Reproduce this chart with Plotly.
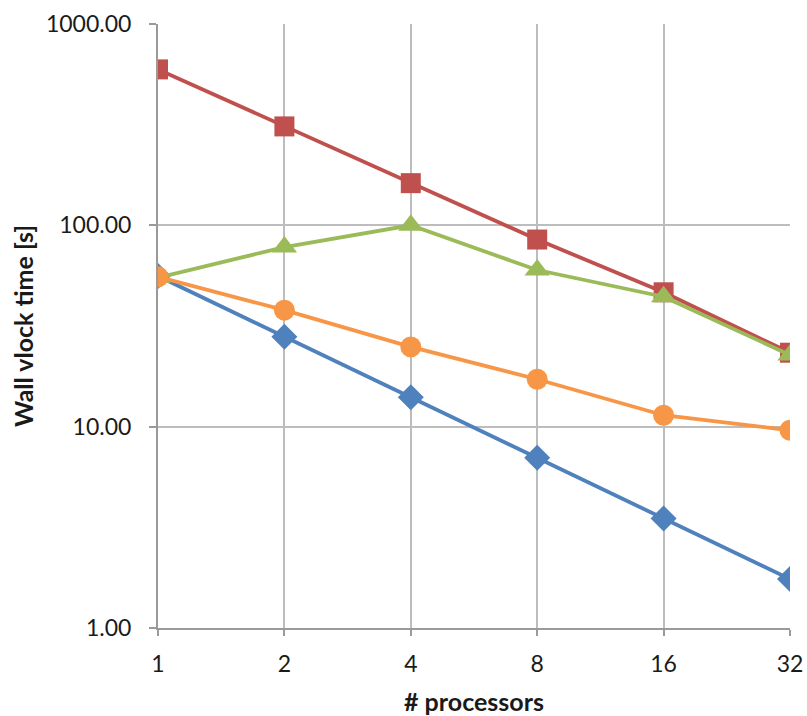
import plotly.graph_objects as go

# processor counts (category axis)
processors = ["1", "2", "4", "8", "16", "32"]

# wall clock times in seconds
blue_times = [56.0, 28.0, 14.0, 7.0, 3.5, 1.75]
red_times = [595.0, 310.0, 162.0, 85.0, 46.5, 23.3]
green_times = [55.0, 78.0, 100.0, 60.0, 44.2, 22.7]
orange_times = [55.5, 37.9, 24.9, 17.2, 11.4, 9.6]

y_ticks = [1, 10, 100, 1000]
y_tick_labels = ["1.00", "10.00", "100.00", "1000.00"]

series = [
    ("Series 1", blue_times, "#4F81BD", "diamond", 20),
    ("Series 2", red_times, "#C0504D", "square", 20),
    ("Series 3", green_times, "#9BBB59", "triangle-up", 22),
    ("Series 4", orange_times, "#F79646", "circle", 21),
]

fig = go.Figure()
for name, vals, color, symbol, size in series:
    fig.add_trace(go.Scatter(
        x=processors, y=vals, name=name, mode="lines+markers",
        line=dict(color=color, width=3.8),
        marker=dict(color=color, symbol=symbol, size=size, line=dict(width=0)),
    ))

font_family = "Lato, 'Open Sans', sans-serif"
grid_color = "#BDBDBD"
axis_color = "#9a9a9a"

fig.update_layout(
    width=807, height=716,
    margin=dict(l=158, r=17, t=24, b=88),
    paper_bgcolor="white", plot_bgcolor="white",
    showlegend=False,
    font=dict(family=font_family, color="#1a1a1a"),
    xaxis=dict(
        type="category", range=[0, 5], automargin=False,
        showgrid=True, gridcolor=grid_color, gridwidth=1.5,
        showline=True, linecolor=axis_color, linewidth=2,
        ticks="outside", ticklen=6, tickcolor=axis_color, tickwidth=1.5,
        ticklabelstandoff=8,
        tickfont=dict(size=23, family=font_family),
        title=dict(text="# processors", font=dict(size=25, weight="bold"), standoff=19),
        zeroline=False,
    ),
    yaxis=dict(
        type="log", range=[0, 3], automargin=False,
        tickvals=y_ticks, ticktext=y_tick_labels,
        showgrid=True, gridcolor=grid_color, gridwidth=1.5,
        showline=True, linecolor=axis_color, linewidth=2,
        ticks="outside", ticklen=7, tickcolor=axis_color, tickwidth=1.5,
        ticklabelstandoff=13,
        tickfont=dict(size=23, family=font_family),
        title=dict(text="Wall vlock time [s]", font=dict(size=25, weight="bold"), standoff=5),
        zeroline=False,
    ),
)

fig.write_html("out.html")
